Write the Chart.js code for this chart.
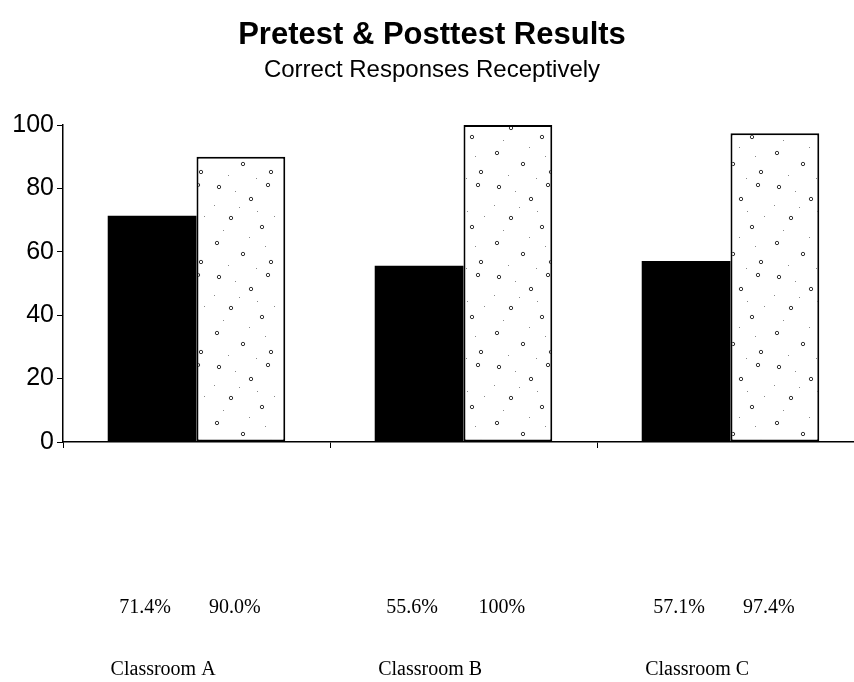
<!DOCTYPE html>
<html lang="en">
<head>
    <meta charset="UTF-8">
    <title>Pretest & Posttest Results</title>
    <style>
        body {
            margin: 0;
            background: #ffffff;
            overflow: hidden;
        }
        #chart-box {
            width: 880px;
            height: 682px;
        }
    </style>
    <script src="https://cdn.jsdelivr.net/npm/chart.js"></script>
</head>
<body>
    <div id="chart-box">
        <canvas id="resultsChart" width="880" height="682"></canvas>
    </div>

    <script>
    // Daten
    const classrooms = ['Classroom A', 'Classroom B', 'Classroom C'];
    const pretest = [71.4, 55.6, 57.1];
    const posttest = [90.0, 100, 97.4];
    const pretestLabels = ['71.4%', '55.6%', '57.1%'];
    const posttestLabels = ['90.0%', '100%', '97.4%'];
    const yTicks = [0, 20, 40, 60, 80, 100];

    // gepunktetes Muster fuer die Posttest-Balken
    function dottedPattern() {
        const tile = document.createElement('canvas');
        tile.width = 70;
        tile.height = 90;
        const c = tile.getContext('2d');
        c.fillStyle = '#ffffff';
        c.fillRect(0, 0, 70, 90);
        c.strokeStyle = '#333';
        c.lineWidth = 1;
        const rings = [[9, 7], [41, 19], [58, 5], [21, 38], [52, 47], [7, 63], [33, 74], [61, 82]];
        rings.forEach(([x, y]) => {
            c.beginPath();
            c.arc(x, y, 1.7, 0, Math.PI * 2);
            c.stroke();
        });
        c.fillStyle = '#888';
        const specks = [[25, 11], [47, 31], [13, 50], [64, 36], [39, 57], [4, 25], [55, 66], [29, 27], [18, 85], [46, 88]];
        specks.forEach(([x, y]) => c.fillRect(x, y, 1, 1));
        return c.createPattern(tile, 'repeat');
    }

    const ctx = document.getElementById('resultsChart').getContext('2d');

    // Prozentwerte und Klassennamen unter der Achse
    const bottomText = {
        id: 'bottomText',
        afterDraw(chart) {
            const c = chart.ctx;
            const pre = chart.getDatasetMeta(0).data;
            const post = chart.getDatasetMeta(1).data;
            c.save();
            c.fillStyle = '#000';
            c.font = '20px "Liberation Serif", "Times New Roman", serif';
            c.textAlign = 'center';
            c.textBaseline = 'middle';
            pre.forEach((bar, i) => {
                c.fillText(pretestLabels[i], bar.x - 7, 608);
                c.fillText(posttestLabels[i], post[i].x - 6, 608);
                c.fillText(classrooms[i], bar.x + 11, 670);
            });
            c.restore();
        }
    };

    new Chart(ctx, {
        type: 'bar',
        data: {
            labels: classrooms,
            datasets: [{
                label: 'Pretest',
                data: pretest,
                backgroundColor: '#000000',
                borderWidth: 0
            }, {
                label: 'Posttest',
                data: posttest,
                backgroundColor: dottedPattern(),
                borderColor: '#000000',
                borderWidth: 2,
                borderSkipped: false
            }]
        },
        options: {
            responsive: false,
            animation: false,
            devicePixelRatio: 1,
            categoryPercentage: 0.665,
            barPercentage: 1,
            layout: {
                padding: { top: 8, right: 16, left: 0, bottom: 0 }
            },
            plugins: {
                legend: { display: false },
                tooltip: { enabled: false },
                title: {
                    display: true,
                    text: 'Pretest & Posttest Results',
                    color: '#000',
                    font: { family: 'Arial, "Liberation Sans", sans-serif', size: 31, weight: 'bold' },
                    padding: { top: 9, bottom: 2 }
                },
                subtitle: {
                    display: true,
                    text: 'Correct Responses Receptively',
                    color: '#000',
                    font: { family: 'Arial, "Liberation Sans", sans-serif', size: 24 },
                    padding: { top: 0, bottom: 40 }
                }
            },
            scales: {
                x: {
                    offset: true,
                    grid: {
                        offset: true,
                        drawOnChartArea: false,
                        drawTicks: true,
                        tickLength: 6,
                        color: '#000'
                    },
                    border: { display: true, color: '#000', width: 1.5 },
                    ticks: { display: false },
                    afterFit(scale) { scale.height = 240; }
                },
                y: {
                    min: 0,
                    max: 100,
                    afterBuildTicks(scale) {
                        scale.ticks = yTicks.map(v => ({ value: v }));
                    },
                    grid: {
                        drawOnChartArea: false,
                        drawTicks: true,
                        tickLength: 6,
                        color: '#000'
                    },
                    border: { display: true, color: '#000', width: 1.5 },
                    ticks: {
                        color: '#000',
                        padding: 3,
                        font: { family: 'Arial, "Liberation Sans", sans-serif', size: 25 }
                    },
                    afterFit(scale) { scale.width = 63; }
                }
            }
        },
        plugins: [bottomText]
    });
    </script>
</body>
</html>
